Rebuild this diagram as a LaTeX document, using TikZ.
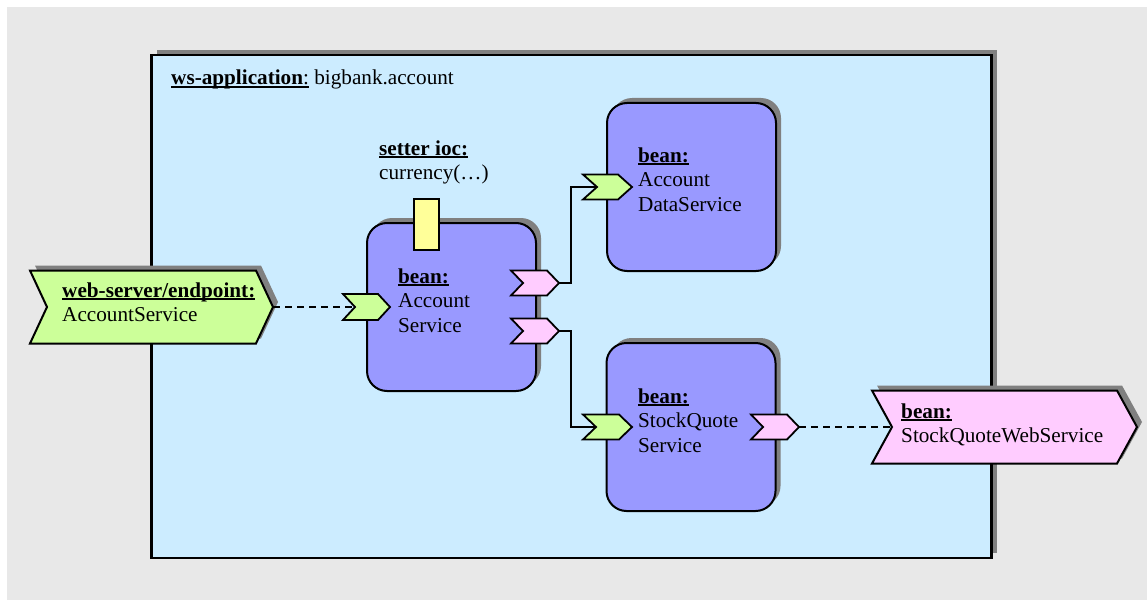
\documentclass[tikz,border=0pt]{standalone}
\usepackage{fontspec}
\setmainfont{Liberation Serif}
\usetikzlibrary{shadows}

\definecolor{bggray}{HTML}{E8E8E8}
\definecolor{appblue}{HTML}{CCECFF}
\definecolor{beanblue}{HTML}{9999FF}
\definecolor{portgreen}{HTML}{CCFF99}
\definecolor{portpink}{HTML}{FFCCFF}
\definecolor{iocyellow}{HTML}{FFFF99}
\definecolor{shadowgray}{HTML}{808080}

% underlined box with a rule a little below the baseline
\newcommand\ulbox[1]{\setbox0\hbox{#1}\rlap{\rule[-2.6pt]{\wd0}{1.2pt}}\box0\relax}

\tikzset{
  txt/.style={anchor=base west, inner sep=0pt, font=\rmfamily\fontsize{21.2}{24.5}\selectfont},
  boxshadow/.style={general shadow={fill=shadowgray, shadow xshift=5pt, shadow yshift=5pt}},
  appbox/.style={draw, line width=2.5pt, fill=appblue, boxshadow,
    minimum width=840pt, minimum height=503pt, inner sep=0pt},
  beanbox/.style={draw, line width=2pt, fill=beanblue, rounded corners=20pt, boxshadow,
    minimum width=169pt, minimum height=168pt, inner sep=0pt},
  iocbox/.style={draw, line width=2pt, fill=iocyellow,
    minimum width=25pt, minimum height=51pt, inner sep=0pt},
  wire/.style={line width=1.7pt},
  dashwire/.style={line width=1.7pt, dash pattern=on 7pt off 5pt},
  % port chevron: origin at the notch, #1 notch-to-tip length, #2 notch depth,
  % #3 height, #4 fill colour
  pics/port/.style n args={4}{code={
    \draw[line width=1.8pt, fill=#4] (-#2,-#3/2) -- (#1-#2,-#3/2) -- (#1,0)
      -- (#1-#2,#3/2) -- (-#2,#3/2) -- (0,0) -- cycle;
    \coordinate (-in) at (0,0);
    \coordinate (-out) at (#1,0);
  }},
  pics/bigport/.style n args={4}{code={
    \fill[shadowgray] (5-#2,-#3/2-5) -- (5+#1-#2,-#3/2-5) -- (5+#1,-5)
      -- (5+#1-#2,#3/2-5) -- (5-#2,#3/2-5) -- (5,-5) -- cycle;
    \draw[line width=2pt, fill=#4] (-#2,-#3/2) -- (#1-#2,-#3/2) -- (#1,0)
      -- (#1-#2,#3/2) -- (-#2,#3/2) -- (0,0) -- cycle;
    \coordinate (-in) at (0,0);
    \coordinate (-out) at (#1,0);
  }},
}

\begin{document}
\begin{tikzpicture}[x=1pt, y=-1pt]
\useasboundingbox (0,0) rectangle (1147,607);
\fill[bggray] (7,7) rectangle (1147,600);

% application container
\node[appbox] (app) at (571.5,306.5) {};
\node[txt] (app-label) at (171,85)
  {\ulbox{\textbf{ws-application}:} bigbank.account};

% beans
\node[beanbox] (acct) at (451.5,307) {};
\node[beanbox] (ads) at (691.5,187) {};
\node[beanbox] (sqs) at (691,427) {};

\node[iocbox] (ioc) at (426.5,224.5) {};
\node[txt] (ioc-label) at (379,155)
  {\vtop{\hbox{\ulbox{\textbf{setter ioc:}}}\hbox{currency(…)}}};

\node[txt] (acct-label) at (398,283)
  {\vtop{\hbox{\ulbox{\textbf{bean:}}}\hbox{Account}\hbox{Service}}};
\node[txt] (ads-label) at (638,162)
  {\vtop{\hbox{\ulbox{\textbf{bean:}}}\hbox{Account}\hbox{DataService}}};
\node[txt] (sqs-label) at (638,403)
  {\vtop{\hbox{\ulbox{\textbf{bean:}}}\hbox{StockQuote}\hbox{Service}}};

% external endpoints
\pic (ws) at (47,307) {bigport={226}{17}{73}{portgreen}};
\node[txt] (ws-label) at (62,297)
  {\vtop{\hbox{\ulbox{\textbf{web-server/endpoint:}}}\hbox{AccountService}}};

\pic (sqws) at (892,427) {bigport={245}{20}{73}{portpink}};
\node[txt] (sqws-label) at (901,418)
  {\vtop{\hbox{\ulbox{\textbf{bean:}}}\hbox{StockQuoteWebService}}};

% ports on the beans
\pic (acct-in) at (355,307) {port={35}{12}{26}{portgreen}};
\pic (acct-out1) at (523,283) {port={36}{12}{25}{portpink}};
\pic (acct-out2) at (523,331) {port={36}{12}{25}{portpink}};
\pic (ads-in) at (597,187) {port={35}{14}{25}{portgreen}};
\pic (sqs-in) at (596,427) {port={36}{13}{25}{portgreen}};
\pic (sqs-out) at (763,427) {port={36}{12}{25}{portpink}};

% wiring
\draw[dashwire] (ws-out) -- (acct-in-in);
\draw[wire] (acct-out1-out) -- ++(12,0) |- (ads-in-in);
\draw[wire] (acct-out2-out) -- ++(12,0) |- (sqs-in-in);
\draw[dashwire] (sqs-out-out) -- (sqws-in);
\end{tikzpicture}
\end{document}
